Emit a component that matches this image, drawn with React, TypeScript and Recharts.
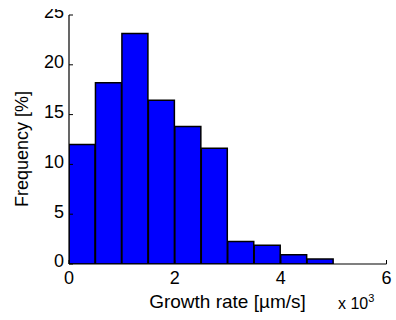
import React from 'react';
import { BarChart, Bar, XAxis, YAxis } from 'recharts';

const binCenters = [0.25, 0.75, 1.25, 1.75, 2.25, 2.75, 3.25, 3.75, 4.25, 4.75];
const frequency = [12.0, 18.2, 23.15, 16.45, 13.8, 11.63, 2.27, 1.87, 0.93, 0.5];
const xTicks = [0, 2, 4, 6];
const yTicks = [0, 5, 10, 15, 20, 25];

const data = binCenters.map((x, i) => ({ x, f: frequency[i] }));

const FONT = '"Liberation Sans", Arial, Helvetica, sans-serif';

const BottomTick = (props: any) => {
  const { x, y, payload } = props;
  return (
    <g>
      <line x1={x} y1={y} x2={x} y2={y - 4} stroke="#000" strokeWidth={1} />
      <text x={x} y={y + 19.5} textAnchor="middle" fontSize={18} fontFamily={FONT} fill="#000">
        {payload.value}
      </text>
    </g>
  );
};

const TopTick = (props: any) => {
  const { x, y } = props;
  return <line x1={x} y1={y} x2={x} y2={y + 4} stroke="#000" strokeWidth={1} />;
};

const LeftTick = (props: any) => {
  const { x, y, payload } = props;
  const label = (
    <text x={x - 5} y={y + 3.4} textAnchor="end" fontSize={18} fontFamily={FONT} fill="#000">
      {payload.value}
    </text>
  );
  return (
    <g>
      <line x1={x} y1={y} x2={x + 4} y2={y} stroke="#000" strokeWidth={1} />
      {payload.value === 25 ? <g clipPath="url(#clipTop)">{label}</g> : label}
    </g>
  );
};

const RightTick = (props: any) => {
  const { x, y } = props;
  return <line x1={x} y1={y} x2={x - 4} y2={y} stroke="#000" strokeWidth={1} />;
};

export default function App() {
  return (
    <div style={{ position: 'absolute', left: 0, top: 0, width: 396, height: 320, background: '#fff' }}>
      <BarChart
        width={396}
        height={320}
        data={data}
        margin={{ top: 15, right: 9.5, left: 0, bottom: 0 }}
        barCategoryGap={0}
        barGap={0}
      >
        <defs>
          <clipPath id="clipTop">
            <rect x={0} y={9} width={100} height={40} />
          </clipPath>
        </defs>
        <XAxis
          xAxisId="bottom"
          dataKey="x"
          type="number"
          domain={[0, 6]}
          ticks={xTicks}
          allowDataOverflow
          height={56}
          tickSize={0}
          tickMargin={0}
          tickLine={false}
          axisLine={{ stroke: '#000', strokeWidth: 1.2 }}
          tick={<BottomTick />}
          interval={0}
        />
        <XAxis
          xAxisId="top"
          orientation="top"
          type="number"
          domain={[0, 6]}
          ticks={xTicks}
          allowDataOverflow
          height={0}
          tickSize={0}
          tickLine={false}
          axisLine={{ stroke: '#000', strokeWidth: 1.2 }}
          tick={<TopTick />}
          interval={0}
        />
        <YAxis
          yAxisId="left"
          type="number"
          domain={[0, 25]}
          ticks={yTicks}
          allowDataOverflow
          width={69}
          tickSize={0}
          tickMargin={0}
          tickLine={false}
          axisLine={{ stroke: '#000', strokeWidth: 1.2 }}
          tick={<LeftTick />}
          interval={0}
        />
        <YAxis
          yAxisId="right"
          orientation="right"
          type="number"
          domain={[0, 25]}
          ticks={yTicks}
          allowDataOverflow
          width={0}
          tickSize={0}
          tickLine={false}
          axisLine={{ stroke: '#000', strokeWidth: 1.2 }}
          tick={<RightTick />}
          interval={0}
        />
        <Bar
          xAxisId="bottom"
          yAxisId="left"
          dataKey="f"
          fill="#0000FF"
          stroke="#000"
          strokeWidth={1.5}
          isAnimationActive={false}
        />
        <text x={227.5} y={308} textAnchor="middle" fontSize={19} fontFamily={FONT} fill="#000">
          Growth rate [µm/s]
        </text>
        <text
          x={28}
          y={149}
          textAnchor="middle"
          fontSize={18}
          fontFamily={FONT}
          fill="#000"
          transform="rotate(-90 28 149)"
        >
          Frequency [%]
        </text>
        <text x={338} y={309} fontSize={16} fontFamily={FONT} fill="#000">
          x 10
          <tspan fontSize={11} dy={-7}>3</tspan>
        </text>
      </BarChart>
    </div>
  );
}
